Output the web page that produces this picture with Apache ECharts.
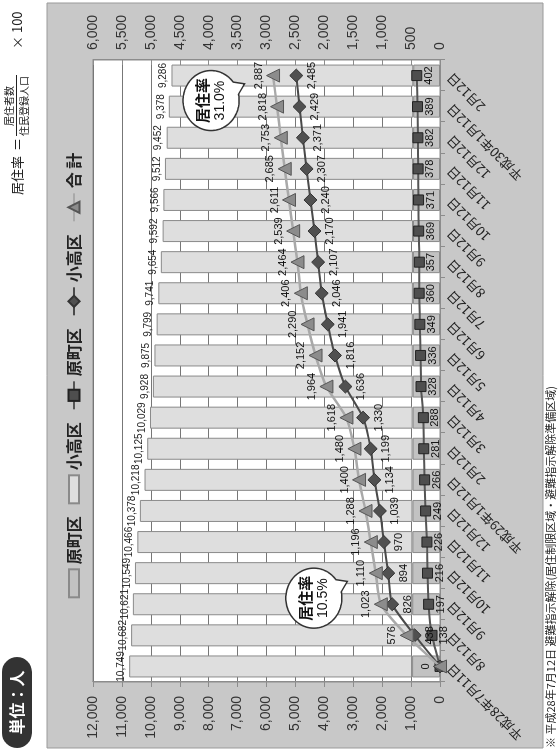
<!DOCTYPE html>
<html><head><meta charset="utf-8">
<script src="https://cdn.jsdelivr.net/npm/echarts@6/dist/echarts.min.js"></script>
<style>
html,body{margin:0;padding:0;width:558px;height:751px;overflow:hidden;background:#fff;}
#chart{position:absolute;left:0;top:0;width:751px;height:558px;transform-origin:0 0;transform:translate(0,751px) rotate(-90deg);}
</style></head><body><div id="chart"></div>
<script>
const categories = ['平成28年7月11日','8月12日','9月12日','10月12日','11月12日','12月12日','平成29年1月12日','2月12日','3月12日','4月12日','5月12日','6月12日','7月12日','8月12日','9月12日','10月12日','11月12日','12月12日','平成30年1月12日','2月12日'];
const registeredTotal = [10749,10682,10621,10549,10466,10378,10218,10125,10029,9928,9875,9799,9741,9654,9592,9566,9512,9452,9378,9286];
const haramachiRegistered = [965,962,960,958,955,952,950,948,946,944,942,940,938,936,934,932,930,928,926,924];
const haramachiResidents = [0,138,197,216,226,249,266,281,288,328,336,349,360,357,369,371,378,382,389,402];
const odakaResidents = [0,438,826,894,970,1039,1134,1199,1330,1636,1816,1941,2046,2107,2170,2240,2307,2371,2429,2485];
const totalResidents = [0,576,1023,1110,1196,1288,1400,1480,1618,1964,2152,2290,2406,2464,2539,2611,2685,2753,2818,2887];
const callouts = [{idx:3, pct:'10.5%'},{idx:19, pct:'31.0%'}];
const leftAxis = {max:12000, interval:1000};
const rightAxis = {max:6000, interval:500};

const odakaRegistered = registeredTotal.map((t,i)=>t - haramachiRegistered[i]);
const fmt = v => Number(v).toLocaleString('en-US');
const NUM = '"Liberation Sans Narrow","Liberation Sans",sans-serif';
const JP = '"Noto Sans CJK JP","Liberation Sans",sans-serif';
const ZW = '\u200b';
const BOX = 'path://M0,0L25,0L25,9L0,9Z';

const chart = echarts.init(document.getElementById('chart'));
const lineLabel = (pos, dist) => ({show:true, position:pos, distance:dist, fontFamily:NUM, fontSize:11, color:'#111', formatter: p => fmt(p.value)});

const option = {
  animation:false,
  backgroundColor:'#ffffff',
  legend:{
    left:'center', top:61, itemWidth:28, itemHeight:14, itemGap:12,
    textStyle:{fontFamily:JP, fontSize:16, fontWeight:'bold', color:'#222'},
    formatter: n => n.replace(ZW,''),
    data:[{name:'原町区', icon:BOX},{name:'小高区', icon:BOX},'原町区'+ZW,'小高区'+ZW,'合 計']
  },
  grid:{left:69, right:60, top:93, bottom:118, show:true, backgroundColor:'#ffffff', borderColor:'#8c8c8c', borderWidth:1},
  xAxis:{
    type:'category', data:categories, boundaryGap:true,
    axisLine:{show:true, lineStyle:{color:'#8c8c8c'}},
    axisTick:{show:true, length:5, lineStyle:{color:'#8c8c8c'}},
    axisLabel:{rotate:45, margin:9, fontFamily:JP, fontSize:13, color:'#222', interval:0}
  },
  yAxis:[
    {type:'value', min:0, max:leftAxis.max, interval:leftAxis.interval, position:'left',
     axisLine:{show:true, lineStyle:{color:'#8c8c8c'}},
     axisTick:{show:true, length:5, lineStyle:{color:'#8c8c8c'}},
     axisLabel:{margin:14, fontFamily:'"Liberation Sans",sans-serif', fontSize:14, color:'#333', formatter:fmt},
     splitLine:{show:true, lineStyle:{color:'#777', width:1}}},
    {type:'value', min:0, max:rightAxis.max, interval:rightAxis.interval, position:'right',
     axisLine:{show:true, lineStyle:{color:'#8c8c8c'}},
     axisTick:{show:true, inside:true, length:5, lineStyle:{color:'#8c8c8c'}},
     axisLabel:{margin:10, fontFamily:'"Liberation Sans",sans-serif', fontSize:14, color:'#333', formatter:fmt},
     splitLine:{show:false}}
  ],
  series:[
    {name:'原町区', type:'bar', stack:'reg', barWidth:22, data:haramachiRegistered,
     itemStyle:{color:'#c2c2c2', borderColor:'#8a8a8a', borderWidth:1}},
    {name:'小高区', type:'bar', stack:'reg', barWidth:22, data:odakaRegistered,
     itemStyle:{color:'#dedede', borderColor:'#8a8a8a', borderWidth:1},
     label:{show:true, position:'top', distance:3, fontFamily:NUM, fontSize:10, color:'#222', formatter:p=>fmt(registeredTotal[p.dataIndex])}},
    {name:'原町区'+ZW, type:'line', yAxisIndex:1, smooth:0.2, symbol:'rect', symbolSize:10,
     data:haramachiResidents.map((v,i)=>i===0?{value:v,label:{show:false}}:v),
     itemStyle:{color:'#4e4e4e', borderColor:'#222', borderWidth:1},
     lineStyle:{color:'#555', width:2}, label:lineLabel('bottom',1), z:3},
    {name:'小高区'+ZW, type:'line', yAxisIndex:1, smooth:0.2, symbol:'diamond', symbolSize:13,
     data:odakaResidents.map((v,i)=>i===0?{value:v,label:{show:false}}:v),
     itemStyle:{color:'#505050', borderColor:'#333', borderWidth:1},
     lineStyle:{color:'#4a4a4a', width:2}, label:lineLabel('bottom',3), z:4},
    {name:'合 計', type:'line', yAxisIndex:1, smooth:0.2, symbol:'triangle', symbolSize:13,
     data:totalResidents,
     itemStyle:{color:'#8c8c8c', borderColor:'#555', borderWidth:1},
     lineStyle:{color:'#a9a9a9', width:2.5}, label:lineLabel('top',2), z:5}
  ],
  graphic:[
    {type:'rect', id:'bg', z:-10, shape:{x:3, y:47, width:745, height:496}, style:{fill:'#c8c8c8', stroke:'#9a9a9a', lineWidth:1}},
    {type:'rect', id:'pill', shape:{x:3, y:2, width:91, height:30, r:15}, style:{fill:'#333'}},
    {type:'text', id:'pillt', x:48.5, y:17, style:{text:'単位：人', font:'bold 16px '+JP, fill:'#fff', align:'center', verticalAlign:'middle'}},
    {type:'text', id:'f1', x:556, y:17, style:{text:'居住率', font:'13px '+JP, fill:'#222', align:'left', verticalAlign:'middle'}},
    {type:'text', id:'f2', x:600, y:17, style:{text:'＝', font:'13px '+JP, fill:'#222', align:'left', verticalAlign:'middle'}},
    {type:'text', id:'f3', x:645, y:9, style:{text:'居住者数', font:'10px '+JP, fill:'#222', align:'center', verticalAlign:'middle'}},
    {type:'line', id:'f4', shape:{x1:615, y1:16.5, x2:676, y2:16.5}, style:{stroke:'#222', lineWidth:1}},
    {type:'text', id:'f5', x:645, y:24.5, style:{text:'住民登録人口', font:'10px '+JP, fill:'#222', align:'center', verticalAlign:'middle'}},
    {type:'text', id:'f6', x:702, y:17, style:{text:'× 100', font:'13px '+JP, fill:'#222', align:'left', verticalAlign:'middle'}},
    {type:'text', id:'note', x:3, y:551, style:{text:'※ 平成28年7月12日 避難指示解除(居住制限区域・避難指示解除準備区域)', font:'11px '+JP, fill:'#222', align:'left', verticalAlign:'middle'}}
  ]
};
chart.setOption(option);

const extra = [];
callouts.forEach((c,k)=>{
  const p = chart.convertToPixel({seriesIndex:4}, [c.idx, totalResidents[c.idx]]);
  const cx = p[0]-25, cy = p[1]-62, rx = 30, ry = 28;
  const th = 65*Math.PI/180, half = 13*Math.PI/180;
  const pts = [];
  for (let a = th+half; a <= th+2*Math.PI-half+1e-6; a += Math.PI/60) pts.push([cx+rx*Math.cos(a), cy+ry*Math.sin(a)]);
  pts.push([cx+rx*Math.cos(th-half), cy+ry*Math.sin(th-half)]);
  pts.push([cx+1.32*rx*Math.cos(th), cy+1.32*ry*Math.sin(th)]);
  extra.push({type:'polygon', id:'bub'+k, z:20, shape:{points:pts}, style:{fill:'#fff', stroke:'#333', lineWidth:1.5}});
  extra.push({type:'text', id:'bt1'+k, z:21, x:cx, y:cy-9, style:{text:'居住率', font:'bold 15px '+JP, fill:'#111', align:'center', verticalAlign:'middle'}});
  extra.push({type:'text', id:'bt2'+k, z:21, x:cx, y:cy+9, style:{text:c.pct, font:'14px "Liberation Sans",sans-serif', fill:'#111', align:'center', verticalAlign:'middle'}});
});
chart.setOption({graphic: option.graphic.concat(extra)});
</script></body></html>
